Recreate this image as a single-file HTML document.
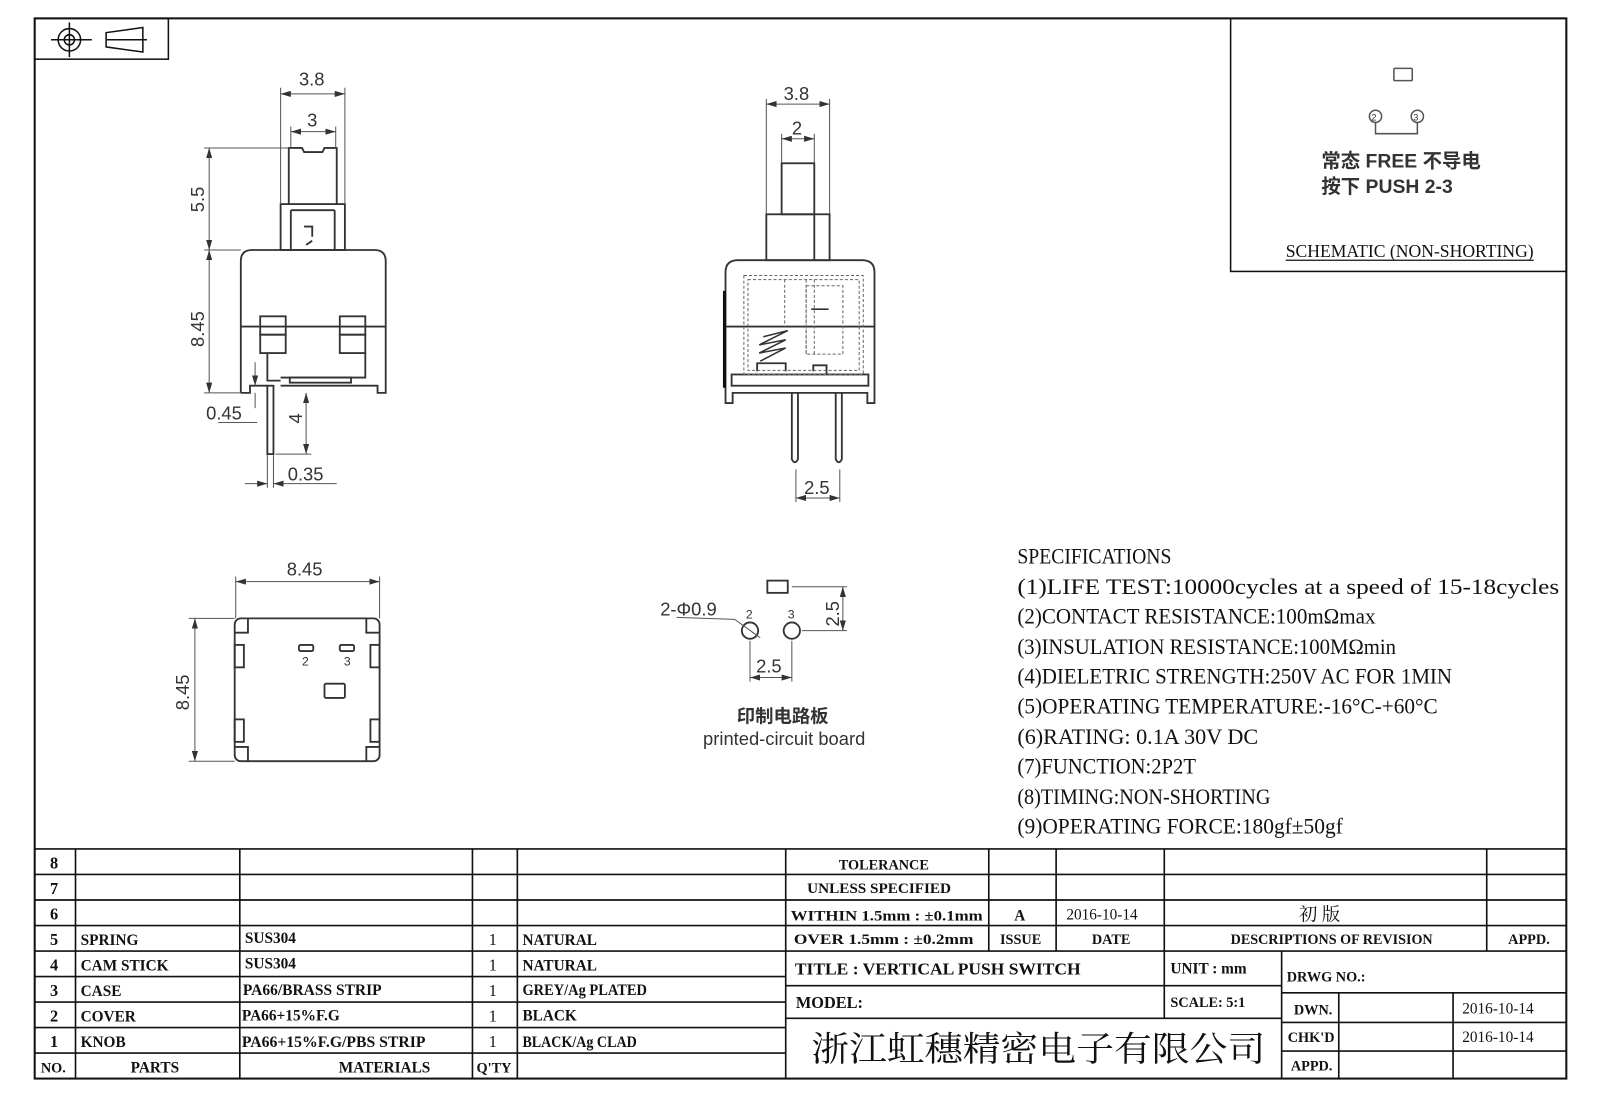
<!DOCTYPE html>
<html><head><meta charset="utf-8"><style>
html,body{margin:0;padding:0;background:#fff;}
svg{display:block;}
.s{font-family:"Liberation Serif","Noto Serif CJK SC",serif;fill:#111;}
.a{font-family:"Liberation Sans","Noto Sans CJK SC",sans-serif;fill:#333;}
</style></head><body>
<svg width="1600" height="1100" viewBox="0 0 1568 1078" preserveAspectRatio="none" xmlns="http://www.w3.org/2000/svg">
<rect x="0" y="0" width="1568" height="1078" fill="#fff"/>
<defs>
<marker id="ar" markerWidth="10" markerHeight="6" refX="10" refY="3" orient="auto-start-reverse" markerUnits="userSpaceOnUse"><path d="M0,0 L10,3 L0,6z" fill="#333"/></marker>
</defs>
<!-- frame -->
<rect x="34" y="18" width="1501" height="1039" fill="none" stroke="#111" stroke-width="2"/>
<rect x="34" y="18" width="131" height="40" fill="none" stroke="#111" stroke-width="1.5"/>
<g stroke="#111" fill="none" stroke-width="1.5">
<circle cx="68" cy="39" r="11"/><circle cx="68" cy="39" r="5"/>
<line x1="50" y1="39" x2="90" y2="39"/><line x1="68" y1="22" x2="68" y2="56"/>
<path d="M104,39 L144,39 M104,32 L104,46 L140,51 L140,27 Z"/>
</g>
<!-- schematic box -->
<rect x="1206" y="18" width="329" height="248" fill="none" stroke="#111" stroke-width="1.5"/>
<g stroke="#555" fill="none" stroke-width="1.5">
<rect x="1366" y="67" width="18" height="12" rx="1"/>
<circle cx="1348" cy="114" r="6"/><circle cx="1389" cy="114" r="6"/>
<path d="M1348,120 L1348,131 L1389,131 L1389,120"/>
</g>
<text x="1344" y="118" font-size="9" class="a">2</text><text x="1385" y="118" font-size="9" class="a">3</text>
<text x="1295" y="164" font-size="19" class="a" font-weight="bold" fill="#555">常态 FREE 不导电</text>
<text x="1295" y="189" font-size="19" class="a" font-weight="bold" fill="#555">按下 PUSH 2-3</text>
<text x="1260" y="252" font-size="18" class="s" textLength="243" lengthAdjust="spacingAndGlyphs">SCHEMATIC (NON-SHORTING)</text>
<line x1="1260" y1="255" x2="1503" y2="255" stroke="#111" stroke-width="1.2"/>

<!-- front view -->
<g stroke="#333" stroke-width="1.8" fill="none">
<path d="M283,200 L283,145 L296,145 L298,149 L316,149 L318,145 L330,145 L330,200"/>
<rect x="275" y="200" width="63" height="45"/>
<line x1="285" y1="206" x2="328" y2="206"/><line x1="285" y1="206" x2="285" y2="245"/><line x1="328" y1="206" x2="328" y2="245"/>
<path d="M298,222 L306,222 L306,232 M300,240 L306,236"/>
<path d="M236,385 L236,256 Q236,245 247,245 L367,245 Q378,245 378,256 L378,385 L370,385 L370,378 L275,378"/>
<path d="M236,385 L245,385 L245,378 L262,378"/>
<line x1="236" y1="320" x2="378" y2="320"/>
<rect x="255" y="310" width="25" height="18"/><rect x="255" y="328" width="25" height="18"/>
<rect x="333" y="310" width="25" height="18"/><rect x="333" y="328" width="25" height="18"/>
<path d="M262,346 L262,373 L275,373 M358,346 L358,370 L275,370"/>
<rect x="284" y="370" width="60" height="5"/>
<rect x="262" y="378" width="6" height="67"/>
</g>
<g stroke="#555" stroke-width="1" fill="none">
<line x1="275" y1="86" x2="275" y2="200"/><line x1="338" y1="86" x2="338" y2="200"/>
<line x1="275" y1="92" x2="338" y2="92" marker-start="url(#ar)" marker-end="url(#ar)"/>
<line x1="285" y1="124" x2="285" y2="145"/><line x1="329" y1="124" x2="329" y2="145"/>
<line x1="285" y1="129" x2="329" y2="129" marker-start="url(#ar)" marker-end="url(#ar)"/>
<line x1="200" y1="145" x2="283" y2="145"/><line x1="200" y1="245" x2="236" y2="245"/><line x1="200" y1="385" x2="236" y2="385"/>
<line x1="205" y1="145" x2="205" y2="245" marker-start="url(#ar)" marker-end="url(#ar)"/>
<line x1="205" y1="245" x2="205" y2="385" marker-start="url(#ar)" marker-end="url(#ar)"/>
<line x1="250" y1="355" x2="250" y2="378" marker-end="url(#ar)"/><line x1="250" y1="385" x2="250" y2="400"/>
<line x1="214" y1="414" x2="252" y2="414"/>
<line x1="300" y1="385" x2="300" y2="445" marker-start="url(#ar)" marker-end="url(#ar)"/>
<line x1="270" y1="445" x2="305" y2="445"/>
<line x1="262" y1="446" x2="262" y2="478"/><line x1="268" y1="446" x2="268" y2="478"/>
<line x1="240" y1="474" x2="262" y2="474" marker-end="url(#ar)"/><line x1="268" y1="474" x2="330" y2="474" marker-start="url(#ar)"/>
</g>
<g class="a" font-size="18" fill="#333">
<text x="293" y="84">3.8</text><text x="301" y="124">3</text>
<text x="200" y="208" transform="rotate(-90 200 208)">5.5</text>
<text x="200" y="340" transform="rotate(-90 200 340)">8.45</text>
<text x="202" y="411">0.45</text>
<text x="296" y="415" transform="rotate(-90 296 415)">4</text>
<text x="282" y="471">0.35</text>
</g>

<!-- side view -->
<g stroke="#333" stroke-width="1.8" fill="none">
<rect x="766" y="160" width="32" height="50"/>
<rect x="751" y="210" width="62" height="45"/>
<line x1="798" y1="210" x2="798" y2="255"/>
<path d="M711,395 L711,267 Q711,255 723,255 L845,255 Q857,255 857,267 L857,395 L850,395 L850,385 L718,385 L718,395 Z"/>
<line x1="711" y1="320" x2="857" y2="320"/>
<rect x="717" y="367" width="134" height="11"/>
<path d="M742,364 L742,356 L770,356 L770,364 M797,364 L797,358 L810,358 L810,367"/>
<path d="M776,385 L776,450 Q779,456 782,450 L782,385 M819,385 L819,450 Q822,456 825,450 L825,385"/>
</g>
<g stroke="#666" stroke-width="1" fill="none" stroke-dasharray="3,2">
<rect x="729" y="270" width="117" height="97"/><rect x="733" y="274" width="109" height="89"/>
<line x1="769" y1="274" x2="769" y2="320"/><line x1="790" y1="274" x2="790" y2="347"/><line x1="798" y1="274" x2="798" y2="347"/>
<rect x="790" y="280" width="36" height="67"/>
</g>
<path d="M748,330 L772,324 L744,338 L770,333 L744,346 L770,341 L745,354" stroke="#333" stroke-width="1.5" fill="none"/>
<path d="M795,303 L812,303" stroke="#333" stroke-width="1.5"/>
<line x1="710" y1="285" x2="710" y2="380" stroke="#111" stroke-width="3"/>
<g stroke="#555" stroke-width="1" fill="none">
<line x1="751" y1="97" x2="751" y2="210"/><line x1="813" y1="97" x2="813" y2="210"/>
<line x1="751" y1="102" x2="813" y2="102" marker-start="url(#ar)" marker-end="url(#ar)"/>
<line x1="766" y1="131" x2="766" y2="160"/><line x1="798" y1="131" x2="798" y2="160"/>
<line x1="766" y1="136" x2="798" y2="136" marker-start="url(#ar)" marker-end="url(#ar)"/>
<line x1="780" y1="460" x2="780" y2="492"/><line x1="823" y1="460" x2="823" y2="492"/>
<line x1="780" y1="488" x2="823" y2="488" marker-start="url(#ar)" marker-end="url(#ar)"/>
</g>
<g class="a" font-size="18" fill="#333">
<text x="768" y="98">3.8</text><text x="776" y="132">2</text><text x="788" y="484">2.5</text>
</g>

<!-- top view -->
<g stroke="#333" stroke-width="1.8" fill="none">
<rect x="230" y="606" width="142" height="140" rx="6"/>
<path d="M230,620 L243,620 L243,606 M372,620 L359,620 L359,606 M230,732 L243,732 L243,746 M372,732 L359,732 L359,746"/>
<rect x="230" y="632" width="9" height="22"/><rect x="363" y="632" width="9" height="22"/>
<rect x="230" y="705" width="9" height="22"/><rect x="363" y="705" width="9" height="22"/>
<rect x="293" y="632" width="14" height="6" rx="1.5"/><rect x="333" y="632" width="14" height="6" rx="1.5"/>
<rect x="318" y="670" width="20" height="14" rx="1.5"/>
</g>
<g stroke="#555" stroke-width="1" fill="none">
<line x1="231" y1="565" x2="231" y2="606"/><line x1="372" y1="565" x2="372" y2="606"/>
<line x1="231" y1="570" x2="372" y2="570" marker-start="url(#ar)" marker-end="url(#ar)"/>
<line x1="185" y1="606" x2="230" y2="606"/><line x1="185" y1="746" x2="230" y2="746"/>
<line x1="191" y1="606" x2="191" y2="746" marker-start="url(#ar)" marker-end="url(#ar)"/>
</g>
<g class="a" font-size="18" fill="#333">
<text x="281" y="564">8.45</text>
<text x="185" y="696" transform="rotate(-90 185 696)">8.45</text>
<text x="296" y="652" font-size="12">2</text><text x="337" y="652" font-size="12">3</text>
</g>

<!-- PCB -->
<g stroke="#333" stroke-width="1.8" fill="none">
<rect x="752" y="569" width="20" height="12"/>
<circle cx="735" cy="618" r="8"/><circle cx="776" cy="618" r="8"/>
</g>
<g stroke="#555" stroke-width="1" fill="none">
<path d="M663,605 L720,607 L745,625"/>
<line x1="776" y1="575" x2="830" y2="575"/><line x1="786" y1="618" x2="830" y2="618"/>
<line x1="826" y1="575" x2="826" y2="618" marker-start="url(#ar)" marker-end="url(#ar)"/>
<line x1="735" y1="628" x2="735" y2="668"/><line x1="776" y1="628" x2="776" y2="668"/>
<line x1="735" y1="664" x2="776" y2="664" marker-start="url(#ar)" marker-end="url(#ar)"/>
</g>
<g class="a" fill="#333">
<text x="647" y="603" font-size="18">2-Φ0.9</text>
<text x="731" y="606" font-size="12">2</text><text x="772" y="606" font-size="12">3</text>
<text x="822" y="614" font-size="18" transform="rotate(-90 822 614)">2.5</text>
<text x="741" y="659" font-size="18">2.5</text>
<text x="722" y="708" font-size="18" font-weight="bold">印制电路板</text>
<text x="689" y="730" font-size="18">printed-circuit board</text>
</g>

<!-- specifications -->
<g class="s" font-size="22">
<text x="997" y="552" textLength="151" lengthAdjust="spacingAndGlyphs">SPECIFICATIONS</text>
<text x="997" y="582" textLength="531" lengthAdjust="spacingAndGlyphs">(1)LIFE  TEST:10000cycles  at  a  speed  of  15-18cycles</text>
<text x="997" y="611" textLength="351" lengthAdjust="spacingAndGlyphs">(2)CONTACT  RESISTANCE:100mΩmax</text>
<text x="997" y="641" textLength="371" lengthAdjust="spacingAndGlyphs">(3)INSULATION  RESISTANCE:100MΩmin</text>
<text x="997" y="670" textLength="426" lengthAdjust="spacingAndGlyphs">(4)DIELETRIC  STRENGTH:250V  AC  FOR  1MIN</text>
<text x="997" y="699" textLength="412" lengthAdjust="spacingAndGlyphs">(5)OPERATING  TEMPERATURE:-16°C-+60°C</text>
<text x="997" y="729" textLength="236" lengthAdjust="spacingAndGlyphs">(6)RATING:  0.1A  30V  DC</text>
<text x="997" y="758" textLength="175" lengthAdjust="spacingAndGlyphs">(7)FUNCTION:2P2T</text>
<text x="997" y="788" textLength="248" lengthAdjust="spacingAndGlyphs">(8)TIMING:NON-SHORTING</text>
<text x="997" y="817" textLength="319" lengthAdjust="spacingAndGlyphs">(9)OPERATING  FORCE:180gf±50gf</text>
</g>

<!-- table grid -->
<g stroke="#111" stroke-width="1.6" fill="none">
<line x1="34" y1="832" x2="1535" y2="832"/>
<line x1="34" y1="857" x2="1535" y2="857"/>
<line x1="34" y1="882" x2="770" y2="882"/><line x1="770" y1="882" x2="1535" y2="882"/>
<line x1="34" y1="907" x2="1535" y2="907"/>
<line x1="34" y1="932" x2="1535" y2="932"/>
<line x1="34" y1="957" x2="770" y2="957"/>
<line x1="34" y1="982" x2="770" y2="982"/>
<line x1="34" y1="1007" x2="770" y2="1007"/>
<line x1="34" y1="1032" x2="770" y2="1032"/>
<line x1="74" y1="832" x2="74" y2="1057"/><line x1="235" y1="832" x2="235" y2="1057"/>
<line x1="463" y1="832" x2="463" y2="1057"/><line x1="507" y1="832" x2="507" y2="1057"/>
<line x1="770" y1="832" x2="770" y2="1057"/>
<line x1="969" y1="832" x2="969" y2="932"/><line x1="1035" y1="832" x2="1035" y2="932"/>
<line x1="1141" y1="832" x2="1141" y2="998"/><line x1="1457" y1="832" x2="1457" y2="932"/>
<line x1="770" y1="966" x2="1256" y2="966"/><line x1="770" y1="998" x2="1256" y2="998"/>
<line x1="1256" y1="932" x2="1256" y2="1057"/>
<line x1="1256" y1="973" x2="1535" y2="973"/><line x1="1256" y1="1002" x2="1535" y2="1002"/><line x1="1256" y1="1030" x2="1535" y2="1030"/>
<line x1="1312" y1="973" x2="1312" y2="1057"/><line x1="1424" y1="973" x2="1424" y2="1057"/>
</g>
<g class="s" font-size="16" font-weight="bold">
<text x="49" y="851">8</text><text x="49" y="876">7</text><text x="49" y="901">6</text>
<text x="49" y="926">5</text><text x="49" y="951">4</text><text x="49" y="976">3</text>
<text x="49" y="1001">2</text><text x="49" y="1026">1</text><text x="40" y="1051" font-size="14">NO.</text>
<text x="79" y="926" font-size="15">SPRING</text><text x="79" y="951" font-size="15">CAM STICK</text>
<text x="79" y="976" font-size="15">CASE</text><text x="79" y="1001" font-size="15">COVER</text>
<text x="79" y="1026" font-size="15">KNOB</text><text x="128" y="1051" font-size="15">PARTS</text>
<text x="240" y="924" font-size="15">SUS304</text><text x="240" y="949" font-size="15">SUS304</text>
<text x="238" y="975" font-size="15" textLength="136" lengthAdjust="spacingAndGlyphs">PA66/BRASS STRIP</text>
<text x="237" y="1000" font-size="15" textLength="96" lengthAdjust="spacingAndGlyphs">PA66+15%F.G</text>
<text x="237" y="1026" font-size="15" textLength="180" lengthAdjust="spacingAndGlyphs">PA66+15%F.G/PBS STRIP</text>
<text x="332" y="1051" font-size="15">MATERIALS</text>
<text x="479" y="926" font-weight="normal">1</text><text x="479" y="951" font-weight="normal">1</text><text x="479" y="976" font-weight="normal">1</text><text x="479" y="1001" font-weight="normal">1</text><text x="479" y="1026" font-weight="normal">1</text>
<text x="467" y="1051" font-size="14">Q'TY</text>
<text x="512" y="926" font-size="15">NATURAL</text><text x="512" y="951" font-size="15">NATURAL</text>
<text x="512" y="975" font-size="15" textLength="122" lengthAdjust="spacingAndGlyphs">GREY/Ag PLATED</text>
<text x="512" y="1000" font-size="15">BLACK</text>
<text x="512" y="1026" font-size="15" textLength="112" lengthAdjust="spacingAndGlyphs">BLACK/Ag CLAD</text>
<text x="822" y="852" font-size="14">TOLERANCE</text>
<text x="791" y="875" font-size="14" textLength="141" lengthAdjust="spacingAndGlyphs">UNLESS  SPECIFIED</text>
<text x="775" y="902" font-size="14" textLength="188" lengthAdjust="spacingAndGlyphs">WITHIN 1.5mm : ±0.1mm</text>
<text x="778" y="925" font-size="14" textLength="176" lengthAdjust="spacingAndGlyphs">OVER 1.5mm : ±0.2mm</text>
<text x="994" y="902" font-size="15">A</text>
<text x="1045" y="901" font-size="15" font-weight="normal">2016-10-14</text>
<text x="1273" y="902" font-size="18" font-weight="normal">初    版</text>
<text x="980" y="925" font-size="14">ISSUE</text><text x="1070" y="925" font-size="14">DATE</text>
<text x="1206" y="925" font-size="14" textLength="198" lengthAdjust="spacingAndGlyphs">DESCRIPTIONS OF REVISION</text>
<text x="1478" y="925" font-size="14">APPD.</text>
<text x="779" y="955" font-size="17" textLength="280" lengthAdjust="spacingAndGlyphs">TITLE :  VERTICAL PUSH SWITCH</text>
<text x="1147" y="954" font-size="15">UNIT :  mm</text>
<text x="1261" y="962" font-size="14">DRWG NO.:</text>
<text x="780" y="988" font-size="16">MODEL:</text>
<text x="1147" y="987" font-size="14">SCALE:  5:1</text>
<text x="1268" y="994" font-size="14">DWN.</text>
<text x="1262" y="1021" font-size="14">CHK'D</text>
<text x="1265" y="1049" font-size="14">APPD.</text>
<text x="1433" y="993" font-size="15" font-weight="normal">2016-10-14</text>
<text x="1433" y="1021" font-size="15" font-weight="normal">2016-10-14</text>
</g>
<text x="795" y="1040" font-size="34" class="s" textLength="445" lengthAdjust="spacingAndGlyphs">浙江虹穗精密电子有限公司</text>
</svg>
</body></html>
